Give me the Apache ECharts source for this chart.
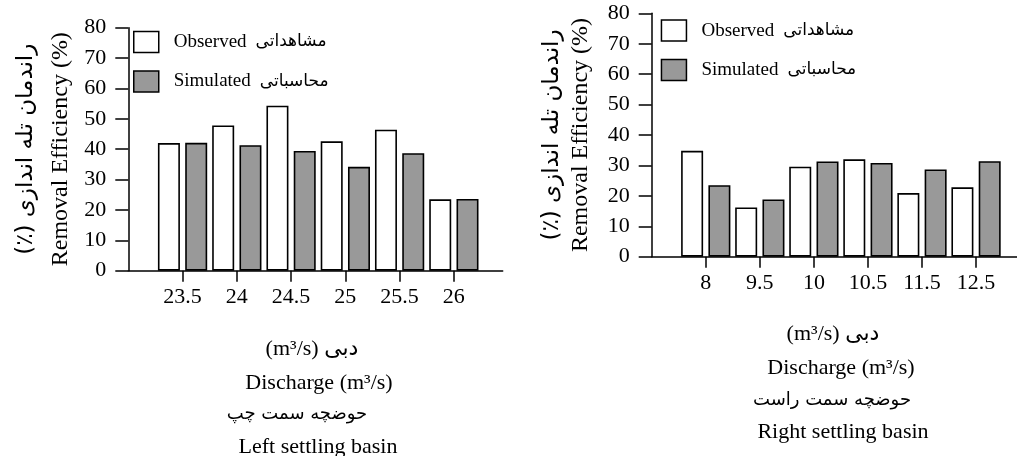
<!DOCTYPE html>
<html>
<head>
<meta charset="utf-8">
<script src="https://cdn.jsdelivr.net/npm/echarts@6/dist/echarts.min.js"></script>
<style>
  html, body { margin: 0; padding: 0; background: #fff; }
  #chart { width: 1017px; height: 456px; }
</style>
</head>
<body>
<div id="chart"></div>
<script>
// Discharge categories (m³/s) and removal efficiency (%) for both settling basins
const leftCategories = ['23.5', '24', '24.5', '25', '25.5', '26'];
const leftObserved = [42.0, 47.8, 54.3, 42.6, 46.4, 23.5];
const leftSimulated = [42.1, 41.3, 39.4, 34.2, 38.7, 23.6];

const rightCategories = ['8', '9.5', '10', '10.5', '11.5', '12.5'];
const rightObserved = [34.8, 16.2, 29.6, 32.0, 20.9, 22.8];
const rightSimulated = [23.5, 18.8, 31.3, 30.8, 28.7, 31.4];

const seriesNames = ['Observed', 'Simulated'];
const seriesNamesFa = { Observed: 'مشاهداتی', Simulated: 'محاسباتی' };

const RLM = '\u200F';
const yTitleFa = 'راندمان تله اندازی (٪)' + RLM;
const yTitleEn = 'Removal Efficiency (%)';
const xTitleFa = '(m³/s) دبی';
const xTitleEn = 'Discharge (m³/s)';
const leftBasinFa = 'حوضچه سمت چپ';
const leftBasinEn = 'Left settling basin';
const rightBasinFa = 'حوضچه سمت راست';
const rightBasinEn = 'Right settling basin';

const FONT = "'Liberation Serif', 'DejaVu Sans', serif";
const FA_FONT = "'DejaVu Sans', sans-serif";
const INK = '#000';
const GREY = '#999999';

const chart = echarts.init(document.getElementById('chart'), null, { renderer: 'canvas' });

// Bars sit on a value axis indexed by category, leaving one slot of blank space after the y axis
const idx = leftCategories.map((_, i) => i);
const toPairs = (arr) => arr.map((v, i) => [i, v]);

function xAxisFor(gridIndex, cats, max) {
  return {
    type: 'value', gridIndex, min: -1, max,
    splitLine: { show: false },
    axisLine: { show: true, onZero: false, lineStyle: { color: INK, width: 1.5 } },
    axisTick: { show: true, length: 11, customValues: idx, lineStyle: { color: INK, width: 1.5 } },
    axisLabel: {
      show: true, customValues: idx, margin: 16,
      formatter: (v) => cats[Math.round(v)] ?? '',
      color: INK, fontFamily: FONT, fontSize: 22
    }
  };
}

function yAxisFor(gridIndex, nameGap, faLine, enLine) {
  return {
    type: 'value', gridIndex, min: 0, max: 80, interval: 10,
    splitLine: { show: false },
    axisLine: { show: true, onZero: false, lineStyle: { color: INK, width: 1.5 } },
    axisTick: { show: true, length: 13, lineStyle: { color: INK, width: 1.5 } },
    axisLabel: { margin: 22, color: INK, fontFamily: FONT, fontSize: 22 },
    name: '{fa|' + yTitleFa + '}\n{en|' + yTitleEn + '}',
    nameLocation: 'middle',
    nameRotate: 90,
    nameGap,
    nameTextStyle: {
      color: INK,
      rich: {
        fa: { fontFamily: FA_FONT, fontSize: 23, lineHeight: faLine, color: INK },
        en: { fontFamily: FONT, fontSize: 24, lineHeight: enLine, color: INK }
      }
    }
  };
}

function barSeries(name, data, axisIndex, fill) {
  return {
    name, type: 'bar',
    xAxisIndex: axisIndex, yAxisIndex: axisIndex,
    data: toPairs(data),
    barWidth: 22,
    barGap: '24%',
    itemStyle: { color: fill, borderColor: INK, borderWidth: 1.6 },
    emphasis: { disabled: true },
    animation: false
  };
}

function legendFor(left, top) {
  return {
    left, top, orient: 'vertical', padding: 0,
    icon: 'rect', itemWidth: 25, itemHeight: 21, itemGap: 17,
    selectedMode: false,
    data: seriesNames,
    itemStyle: { borderColor: INK, borderWidth: 1.5 },
    formatter: (n) => '{en|' + n + '}{gap|}{fa|' + seriesNamesFa[n] + '}',
    textStyle: {
      color: INK, padding: [0, 0, 0, 10],
      rich: {
        en: { fontFamily: FONT, fontSize: 19, color: INK },
        gap: { width: 9 },
        fa: { fontFamily: FA_FONT, fontSize: 17, color: INK }
      }
    }
  };
}

function titleText(x, y, text, size, family) {
  return {
    type: 'text', x, y, silent: true,
    style: {
      text, fill: INK,
      font: size + 'px ' + family,
      align: 'center', verticalAlign: 'middle'
    }
  };
}

const option = {
  backgroundColor: '#fff',
  animation: false,
  grid: [
    { left: 128.3, top: 27.7, width: 374.4, height: 243, containLabel: false },
    { left: 651.7, top: 13.3, width: 364.9, height: 243.4, containLabel: false }
  ],
  xAxis: [xAxisFor(0, leftCategories, 5.9), xAxisFor(1, rightCategories, 5.75)],
  yAxis: [yAxisFor(0, 50, 35, 35), yAxisFor(1, 56, 29, 29)],
  legend: [legendFor(133, 30.7), legendFor(660.7, 19.3)],
  series: [
    barSeries('Observed', leftObserved, 0, '#fff'),
    barSeries('Simulated', leftSimulated, 0, GREY),
    barSeries('Observed', rightObserved, 1, '#fff'),
    barSeries('Simulated', rightSimulated, 1, GREY)
  ],
  graphic: [
    titleText(312, 349, xTitleFa, 22, FONT),
    titleText(319, 383, xTitleEn, 22, FONT),
    titleText(297, 414, leftBasinFa, 18, FA_FONT),
    titleText(318, 447, leftBasinEn, 22, FONT),
    titleText(833, 334, xTitleFa, 22, FONT),
    titleText(841, 368, xTitleEn, 22, FONT),
    titleText(832, 400, rightBasinFa, 18, FA_FONT),
    titleText(843, 432, rightBasinEn, 22, FONT)
  ]
};

chart.setOption(option);
</script>
</body>
</html>
